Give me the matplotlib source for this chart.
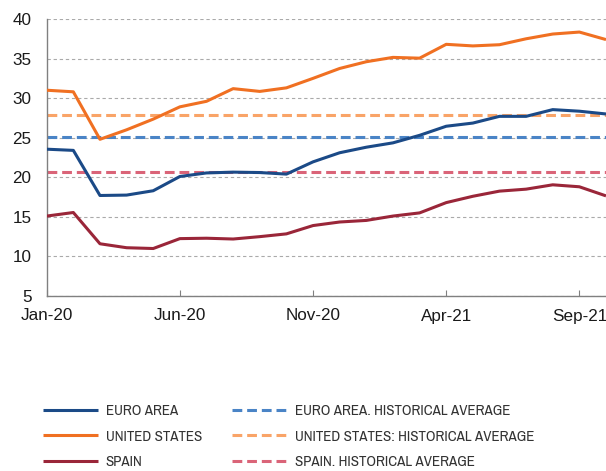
import matplotlib
matplotlib.use("Agg")
import matplotlib.pyplot as plt
from matplotlib import font_manager
import numpy as np

MONTHS = [
    "Jan-20", "Feb-20", "Mar-20", "Apr-20", "May-20", "Jun-20", "Jul-20",
    "Aug-20", "Sep-20", "Oct-20", "Nov-20", "Dec-20", "Jan-21", "Feb-21",
    "Mar-21", "Apr-21", "May-21", "Jun-21", "Jul-21", "Aug-21", "Sep-21",
    "Oct-21",
]
TICK_LABELS = ["Jan-20", "Jun-20", "Nov-20", "Apr-21", "Sep-21"]

euro_area = [23.55, 23.4, 17.7, 17.75, 18.3, 20.1, 20.55, 20.65, 20.6, 20.4,
             21.95, 23.1, 23.8, 24.35, 25.3, 26.45, 26.85, 27.7, 27.7, 28.55,
             28.35, 28.0]
united_states = [31.0, 30.8, 24.8, 26.0, 27.35, 28.9, 29.6, 31.2, 30.85, 31.3,
                 32.5, 33.75, 34.6, 35.15, 35.05, 36.8, 36.6, 36.75, 37.5,
                 38.1, 38.35, 37.4]
spain = [15.1, 15.55, 11.6, 11.1, 11.0, 12.25, 12.3, 12.2, 12.5, 12.85, 13.9,
         14.35, 14.55, 15.1, 15.5, 16.8, 17.6, 18.25, 18.5, 19.05, 18.8, 17.65]

euro_avg = 25.1
us_avg = 27.85
spain_avg = 20.7

series = [
    ("EURO AREA", euro_area, "#1b4a87"),
    ("UNITED STATES", united_states, "#f07022"),
    ("SPAIN", spain, "#9a2639"),
]
averages = [
    ("EURO AREA. HISTORICAL AVERAGE", euro_avg, "#4a84c6"),
    ("UNITED STATES: HISTORICAL AVERAGE", us_avg, "#f9a468"),
    ("SPAIN. HISTORICAL AVERAGE", spain_avg, "#da6478"),
]

# pick a condensed face for the legend if one is installed
names = sorted({f.name for f in font_manager.fontManager.ttflist})
narrow = [n for n in names if any(k in n for k in ("Narrow", "Condensed"))]
legend_family = narrow[:1] + ["Liberation Sans", "DejaVu Sans"]

W, H = 606, 471
fig = plt.figure(figsize=(W / 100, H / 100), dpi=100)
ax = fig.add_axes([46.7 / W, 1 - 296 / H, 1 - 46.7 / W, (296 - 19) / H])

x = np.arange(len(MONTHS))

handles = []
for label, values, color in series:
    (line,) = ax.plot(x, values, color=color, lw=2.2, label=label,
                      solid_capstyle="butt", zorder=3)
    handles.append(line)
for label, value, color in averages:
    line = ax.axhline(value, color=color, lw=2.2, ls=(0, (3.2, 1.6)),
                      label=label, zorder=2)
    handles.append(line)

ax.set_xlim(0, 21)
ax.set_ylim(5, 40)
ax.set_yticks(range(5, 41, 5))
ax.set_xticks([MONTHS.index(m) for m in TICK_LABELS])
ax.set_xticklabels(TICK_LABELS)

ax.grid(axis="y", color="#aaaaaa", lw=0.8, ls=(0, (3, 2.5)), zorder=1)
for side in ("top", "right"):
    ax.spines[side].set_visible(False)
for side in ("left", "bottom"):
    ax.spines[side].set_color("#808080")
    ax.spines[side].set_linewidth(1.0)

ax.tick_params(axis="y", length=0, pad=11, labelsize=12.3)
ax.tick_params(axis="x", direction="in", length=4.3, color="#808080",
               pad=9, labelsize=12.3)
for t in ax.get_xticklabels() + ax.get_yticklabels():
    t.set_fontfamily("Liberation Sans")
    t.set_color("#1a1a1a")

leg = fig.legend(
    handles=handles,
    loc="upper left",
    bbox_to_anchor=(42.7 / W, 1 - 404 / H),
    ncol=2,
    frameon=False,
    borderpad=0,
    borderaxespad=0,
    handlelength=3.7,
    handletextpad=0.5,
    columnspacing=2.0,
    labelspacing=0.78,
    prop={"family": legend_family, "size": 10.8},
)
for t in leg.get_texts():
    t.set_color("#333333")

fig.savefig("out.png", dpi=100)
